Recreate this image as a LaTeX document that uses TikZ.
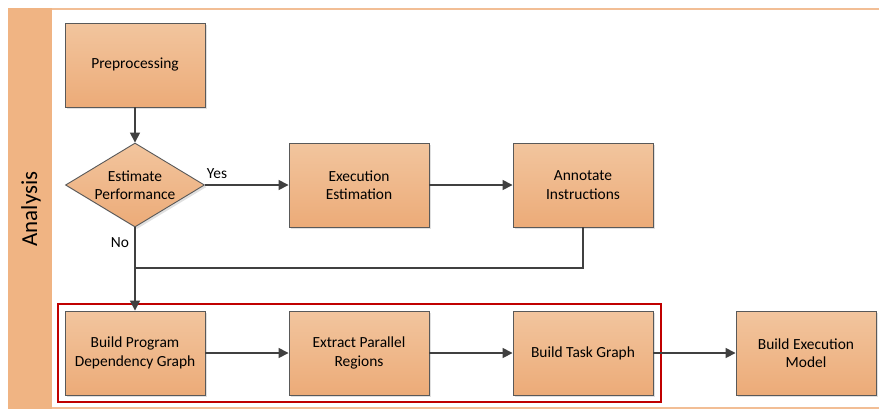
\documentclass[tikz,border=0pt]{standalone}
\usepackage{fontspec}
\setmainfont{Carlito}
\usetikzlibrary{shapes.geometric,arrows.meta,shadows}
\definecolor{lane}{HTML}{F0B483}
\definecolor{laneline}{HTML}{F2BE95}
\definecolor{boxtop}{HTML}{F2C59E}
\definecolor{boxbot}{HTML}{ECAB78}
\definecolor{edge}{HTML}{595959}
\definecolor{wire}{HTML}{404040}
\definecolor{hilite}{HTML}{C00000}
\tikzset{
  stepbox/.style={rectangle, draw=edge, line width=0.9bp, top color=boxtop, bottom color=boxbot,
    minimum width=140bp, minimum height=84bp, inner sep=2bp, align=center,
    font=\fontsize{15.5}{18.5}\selectfont,
    drop shadow={shadow xshift=2bp, shadow yshift=-2bp, fill=black, opacity=0.12}},
  decision/.style={diamond, draw=edge, line width=0.9bp, top color=boxtop, bottom color=boxbot,
    minimum width=139bp, minimum height=84bp, inner sep=0bp, aspect=1.65, align=center,
    font=\fontsize{15.5}{18.5}\selectfont,
    drop shadow={shadow xshift=2bp, shadow yshift=-2bp, fill=black, opacity=0.12}},
  flow/.style={draw=wire, line width=1.6bp, -{Triangle[length=10bp,width=10bp]}},
  plain/.style={draw=wire, line width=1.6bp},
  lbl/.style={font=\fontsize{15.5}{18.5}\selectfont, inner sep=0bp}
}
\begin{document}
\begin{tikzpicture}[x=1bp,y=-1bp]
\useasboundingbox (0,0) rectangle (879,409);
% swimlane frame
\fill[white] (0,0) rectangle (879,409);
\fill[lane] (8,8) rectangle (52,409);
\draw[laneline, line width=2bp] (52,9) -- (879,9);
\draw[laneline, line width=2bp] (52,408) -- (879,408);
\node[rotate=90, font=\fontsize{23}{27}\selectfont] (lanetitle) at (31,209) {Analysis};

% process steps
\node[stepbox] (pre) at (135,65) {Preprocessing};
\node[decision] (est) at (135,185) {Estimate\\Performance};
\node[stepbox] (exe) at (359,185) {Execution\\Estimation};
\node[stepbox] (ann) at (583,185) {Annotate\\Instructions};
\node[stepbox] (pdg) at (135,353) {Build Program\\Dependency Graph};
\node[stepbox] (epr) at (359,353) {Extract Parallel\\Regions};
\node[stepbox] (btg) at (583,353) {Build Task Graph};
\node[stepbox] (bem) at (806,353) {Build Execution\\Model};

% highlighted group
\draw[hilite, line width=2.2bp] (58,304) rectangle (661,402);

% connectors
\coordinate (join) at (135,268);
\draw[flow] (pre) -- (est);
\draw[flow] (est) -- (exe);
\node[lbl] (yes) at (217,174) {Yes};
\draw[flow] (exe) -- (ann);
\draw[plain] (ann.south) |- (join);
\draw[flow] (est.south) -- (pdg.north);
\node[lbl] (no) at (120,243) {No};
\draw[flow] (pdg) -- (epr);
\draw[flow] (epr) -- (btg);
\draw[flow] (btg) -- (bem);
\end{tikzpicture}
\end{document}
